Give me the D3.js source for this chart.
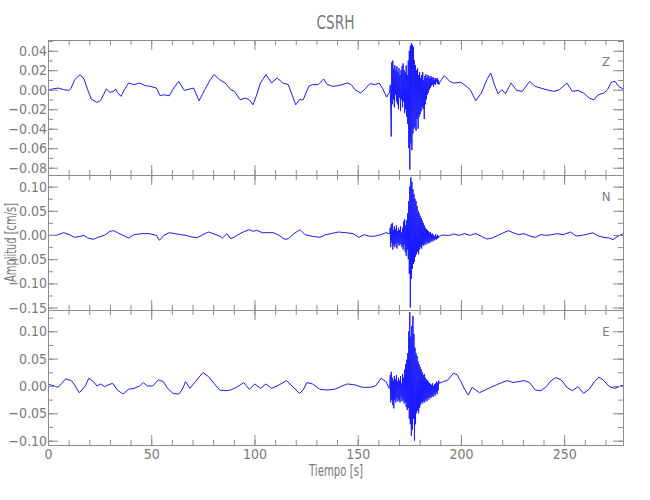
<!DOCTYPE html>
<html><head><meta charset="utf-8">
<script src="https://cdn.jsdelivr.net/npm/d3@7"></script>
<style>
body{margin:0;background:#fff}
text{font-family:"Liberation Sans Narrow","DejaVu Sans Condensed","Liberation Sans",sans-serif;fill:#7a7a7a}
</style>
</head><body><svg id="chart" width="650" height="500"></svg>
<script>
const chartTitle = "CSRH";
const xLabel = "Tiempo [s]";
const yLabel = "Amplitud [cm/s]";
const components = ["Z", "N", "E"];
const xTickValues = [0, 50, 100, 150, 200, 250];
const xDomain = [0, 278.5];
const zTickValues = [-0.08, -0.06, -0.04, -0.02, 0, 0.02, 0.04];
const nTickValues = [-0.15, -0.10, -0.05, 0, 0.05, 0.10];
const eTickValues = [-0.10, -0.05, 0, 0.05, 0.10];
const zDomain = [-0.0875, 0.051];
const nDomain = [-0.155, 0.124];
const eDomain = [-0.108, 0.139];
const zMinorStep = 0.01, nMinorStep = 0.025, eMinorStep = 0.025;

// event section sampled every 0.25 s starting at 165.5 s
const eventStart = 165.5, eventStep = 0.25;

const zBefore = [[0,-0.0017],[0.4,0],[2.2,0.0007],[4.9,0.0017],[7.6,0],[10.3,-0.0007],[11.2,0.0017],[12.9,0.0103],[15.6,0.0155],[17.4,0.011],[19.2,0],[21,-0.0096],[23.7,-0.0131],[25.5,-0.011],[27.3,-0.0034],[28.2,0.0007],[30,-0.0027],[31.8,-0.0017],[32.7,0.0007],[33.6,-0.0027],[35.4,-0.0069],[37.2,0.0007],[39,0.0069],[41.7,0.0052],[44.4,0.0069],[47.1,0.0041],[49.8,0.0034],[52.5,0.0017],[54.3,-0.0062],[56.1,-0.0052],[58.8,-0.0062],[60.6,0.0007],[63.3,0.0086],[66,-0.0007],[68.7,0.0007],[70.5,0.0017],[73.2,-0.0113],[75.9,0],[78.6,0.0103],[80.4,0.0155],[83.1,0.0103],[85.8,0.0069],[88.5,0],[90.3,-0.0017],[93,-0.0103],[95.7,-0.0086],[97.5,-0.0103],[99.3,-0.0155],[101.1,-0.0052],[102.9,0.0069],[105.6,0.0155],[108.3,0.0069],[111,0.012],[113.7,0.0069],[116.4,0.0052],[118.2,-0.0052],[120,-0.0155],[121.8,-0.0103],[123.6,-0.0103],[126.3,0.0034],[128.1,0.0052],[130.8,0.0052],[133.5,0.011],[135.3,0.0052],[138,0.0034],[140.6,0.0041],[142.4,0.0052],[145.1,0.0069],[146.9,0.0052],[148.7,0],[151.4,-0.0034],[153.2,0],[155.9,0.0062],[158.6,0.0052],[160.4,0.0069],[162.2,0.0007],[164,-0.0076],[165.2,-0.0034]];
const zEvent = [-0.003,0.005,-0.02,-0.048,0.028,-0.015,0.03,-0.01,0.022,-0.018,0.025,-0.005,0.02,-0.012,0.024,-0.015,0.018,-0.02,0.022,-0.008,0.015,-0.022,0.02,-0.01,0.024,-0.018,0.027,-0.012,0.02,-0.024,0.018,-0.02,0.025,-0.028,0.015,-0.035,0.03,-0.06,0.04,-0.082,0.045,-0.055,0.048,-0.062,0.046,-0.045,0.044,-0.04,0.03,-0.038,0.025,-0.042,0.02,-0.03,0.022,-0.04,0.015,-0.028,0.018,-0.025,0.012,-0.022,0.015,-0.018,0.018,-0.02,0.01,-0.03,0.014,-0.015,0.016,-0.01,0.012,-0.005,0.015,-0.003,0.014,0,0.012,0.002,0.014,0.004,0.012,0.005,0.013,0.003,0.01,0.006,0.012,0.005,0.011,0.008,0.012,0.006,0.01,0.005];
const zAfter = [[189.5,0.0069],[191.9,0.0144],[194.6,0.0086],[196.4,0.0069],[200,0.0076],[202.7,0.0034],[204.5,0],[207.2,-0.0113],[209.9,-0.0034],[212.6,0.0103],[214.4,0.0172],[216.2,0.0052],[218,-0.0041],[219.8,0],[221.6,-0.0041],[224.3,0.0069],[227,-0.0007],[229.7,-0.0017],[233.3,0.0086],[236,0.0034],[238.7,0.0017],[241.4,0],[245,-0.0017],[247.7,0],[251.3,0.0069],[254,-0.0017],[256.7,-0.0007],[259.4,-0.0034],[262.1,-0.0086],[264.4,-0.0103],[266.5,-0.0052],[269.2,-0.0034],[271,0],[272.8,0.0076],[274.6,0.0086],[276.4,0.0034],[278.5,0.0007]];

const nBefore = [[0,-0.0007],[4,-0.0007],[7.6,0.0048],[10.3,0.0007],[12.9,-0.0048],[15.6,-0.0028],[17.4,-0.0007],[19.2,-0.0062],[21.9,-0.009],[24.6,-0.0041],[27.3,-0.0007],[30,0.0076],[31.8,0.009],[33.6,0.0048],[36.3,-0.0007],[39,-0.0062],[41.7,0.0007],[45.3,0.0028],[48.9,0.0028],[52.5,-0.0007],[54,-0.011],[56.1,-0.0007],[58.8,0.0048],[61.5,0.0028],[64.2,0.0007],[66.9,-0.0007],[69.6,-0.0041],[72.3,-0.0055],[75,0.0007],[77.7,0.0062],[80.4,0.0021],[83.1,-0.0021],[84.5,-0.0062],[86.7,0.0028],[88.5,-0.0076],[90.3,-0.0041],[92.1,0.0007],[94.6,0.0062],[97.5,0.011],[99.3,0.0076],[101.1,0.0097],[103.8,0.0048],[106.5,0.0048],[109.2,0.0048],[111.9,-0.0007],[114.6,-0.009],[116.4,-0.0076],[119.1,0.0028],[122.1,0.011],[124.5,0.0007],[128.1,-0.0028],[131.7,-0.0048],[134.4,0.0007],[137.1,0.0028],[140.6,0.0062],[144.2,0.0048],[147.8,0.0028],[150.5,-0.0048],[153.2,0.0007],[155.9,-0.0028],[158.6,-0.0021],[161.3,0.0007],[163.7,0.0048],[165.2,0.0028]];
const nEvent = [0.003,0.015,-0.025,0.022,-0.015,0.025,-0.03,0.01,-0.02,0.018,-0.025,0.012,-0.018,0.02,-0.028,0.008,-0.015,0.015,-0.022,0.01,-0.018,0.018,-0.02,0.005,-0.025,0.015,-0.03,0.028,-0.02,0.033,-0.035,0.02,-0.043,0.03,-0.03,0.045,-0.05,0.07,-0.08,0.1,-0.15,0.119,-0.09,0.11,-0.07,0.095,-0.06,0.085,-0.055,0.075,-0.045,0.07,-0.04,0.06,-0.035,0.05,-0.04,0.045,-0.03,0.04,-0.025,0.035,-0.028,0.03,-0.02,0.025,-0.022,0.02,-0.018,0.015,-0.02,0.012,-0.015,0.01,-0.018,0.008,-0.015,0.005,-0.016,0.006,-0.012,0.002,-0.014,0.003,-0.01,0,-0.012,-0.002,-0.008,0.002,-0.01,-0.003,-0.008,0,-0.006,-0.002];
const nAfter = [[189.5,-0.003],[191.2,0],[192.8,-0.0007],[194.6,-0.0007],[196.4,0.0021],[199.1,-0.0007],[201.8,0.0028],[204.5,-0.0007],[207.2,0.0028],[209.9,-0.0028],[212.6,-0.0083],[215.3,-0.0062],[218,-0.0007],[220.7,0.0048],[223,0.009],[225.2,0.0048],[227.9,0.0007],[230.6,0.0028],[233.3,-0.0021],[236,-0.0048],[238.7,0.0007],[241.4,-0.0007],[244.1,0.0007],[246.8,0.0028],[249.5,0.0007],[253.1,0.0062],[255.8,-0.0021],[258.5,-0.0007],[261.2,0.0014],[263.9,0.0048],[266.5,-0.0021],[269.2,-0.0048],[271.9,-0.0062],[273.7,-0.0097],[275.5,-0.0041],[278.5,0.0028]];

const eBefore = [[0,0.0037],[1.3,0.0019],[3.1,0],[4.9,-0.0025],[6.7,0.0049],[8.5,0.013],[11.2,0.0099],[12.9,0.0019],[15.1,-0.0123],[16.5,-0.0074],[18.3,0.0019],[19.8,0.0142],[22,0.008],[23.7,0],[25.5,0.0037],[27.3,-0.0012],[29.1,0.0019],[31.3,0.0049],[33.6,-0.0074],[36.3,-0.0148],[39,-0.0062],[41.7,-0.0043],[44.4,0],[46.2,0.0062],[48,0],[50.7,0],[53.4,0.0111],[55.8,0.008],[57.9,-0.0043],[60.6,-0.0136],[63.3,-0.0148],[65.1,-0.0062],[66.6,0.008],[68.7,-0.0043],[71.4,0.008],[75,0.0247],[77.7,0.0173],[80.4,0.0049],[83.1,-0.0074],[85.8,-0.0086],[88.5,-0.0074],[91.2,-0.0025],[94.8,0.0062],[97.5,-0.0062],[100.2,0.0037],[102.9,-0.0043],[105.6,0.0037],[108.3,-0.0043],[111.9,0.0019],[115.5,0.0099],[118.2,0],[121.8,-0.0136],[123.6,-0.0074],[125.4,0.0062],[128.1,0.0037],[131.7,-0.0062],[135.3,-0.0074],[138.8,-0.0062],[142.4,0],[145.1,0.0037],[148.7,0.0019],[152.3,-0.0025],[155.9,-0.0025],[158.6,0],[161.3,0.0142],[163.7,0.008],[165.2,-0.0043]];
const eEvent = [-0.004,0.02,-0.03,0.026,-0.025,0.015,-0.035,0.01,-0.041,0.018,-0.025,0.012,-0.03,0.02,-0.022,0.008,-0.028,0.015,-0.025,0.01,-0.03,0.018,-0.02,0.005,-0.028,0.022,-0.025,0.015,-0.032,0.03,-0.03,0.04,-0.038,0.048,-0.044,0.06,-0.04,0.1,-0.06,0.135,-0.07,0.09,-0.091,0.11,-0.08,0.128,-0.06,0.095,-0.1,0.07,-0.07,0.06,-0.05,0.055,-0.045,0.045,-0.05,0.04,-0.04,0.035,-0.035,0.03,-0.03,0.025,-0.032,0.02,-0.028,0.022,-0.03,0.015,-0.025,0.012,-0.028,0.01,-0.022,0.008,-0.025,0.005,-0.02,0.004,-0.022,0.002,-0.018,0.005,-0.02,0,-0.015,0.003,-0.018,0.005,-0.012,0.008,-0.015,0.006,-0.008,0.01];
const eAfter = [[189.5,0.005],[191.5,0.008],[193.7,0.011],[196.4,0.0234],[198.2,0.0204],[200,0.008],[201.8,-0.0062],[203.6,-0.0167],[205.4,-0.0025],[207.2,-0.0074],[209,-0.0123],[211.7,-0.0074],[214.4,-0.0025],[217.1,0.0019],[219.8,0.0062],[222.5,0.0099],[225.2,0.0062],[227.9,0.008],[230.6,0.0099],[233.3,0.0062],[236,-0.0074],[238.7,-0.0086],[241.4,-0.0012],[243.2,0.008],[245.9,0.0154],[248.6,0.0111],[251.3,-0.0025],[254,-0.0086],[256.7,-0.0012],[259.4,-0.0136],[262.1,-0.0062],[264.7,0.008],[266.9,0.016],[269.2,0.0099],[271.9,-0.0012],[274.6,-0.0043],[277.3,0],[278.5,0.001]];

function assemble(before, ev, after) {
  return before.concat(ev.map((v, i) => [eventStart + i * eventStep, v]), after);
}

const panels = [
  {name: components[0], data: assemble(zBefore, zEvent, zAfter), domain: zDomain, ticks: zTickValues, minor: zMinorStep},
  {name: components[1], data: assemble(nBefore, nEvent, nAfter), domain: nDomain, ticks: nTickValues, minor: nMinorStep},
  {name: components[2], data: assemble(eBefore, eEvent, eAfter), domain: eDomain, ticks: eTickValues, minor: eMinorStep}
];

const svg = d3.select("#chart");
const left = 48, right = 623, top0 = 40, panelH = 135;
const axisColor = "#8c8c8c";
const x = d3.scaleLinear().domain(xDomain).range([left, right]);
const xMinor = d3.range(0, 280, 10);
const fmt = d3.format(".2f");

svg.append("text").attr("x", (left + right) / 2).attr("y", 29)
  .attr("text-anchor", "middle").style("font-size", "20px")
  .attr("textLength", 38).attr("lengthAdjust", "spacingAndGlyphs").text(chartTitle);

panels.forEach((p, i) => {
  const y0 = top0 + i * panelH, y1 = y0 + panelH;
  const y = d3.scaleLinear().domain(p.domain).range([y1, y0]);
  const g = svg.append("g");
  const clipId = "clip" + i;
  svg.append("clipPath").attr("id", clipId).append("rect")
    .attr("x", left).attr("y", y0).attr("width", right - left).attr("height", panelH);

  const yMinor = d3.range(Math.ceil(p.domain[0] / p.minor) * p.minor, p.domain[1], p.minor);

  g.append("path").datum(p.data)
    .attr("clip-path", `url(#${clipId})`)
    .attr("fill", "none").attr("stroke", "#1a1aff").attr("stroke-width", 1)
    .attr("stroke-linejoin", "round")
    .attr("d", d3.line().x(d => x(d[0])).y(d => y(d[1])));

  const styleAxis = sel => { sel.select(".domain").remove(); sel.selectAll("line").attr("stroke", axisColor); sel.selectAll("text").style("font-size", "14px").attr("fill", "#7a7a7a").style("font-family", null); };

  g.append("g").attr("transform", `translate(${left},0)`)
    .call(d3.axisLeft(y).tickValues(yMinor).tickSize(-5).tickFormat(""))
    .call(styleAxis);
  g.append("g").attr("transform", `translate(${left},0)`)
    .call(d3.axisLeft(y).tickValues(p.ticks).tickSize(-10).tickPadding(1).tickFormat(d => fmt(Math.abs(d) < 1e-9 ? 0 : d)))
    .call(styleAxis);
  g.append("g").attr("transform", `translate(${right},0)`)
    .call(d3.axisRight(y).tickValues(yMinor).tickSize(-5).tickFormat(""))
    .call(styleAxis);
  g.append("g").attr("transform", `translate(${right},0)`)
    .call(d3.axisRight(y).tickValues(p.ticks).tickSize(-10).tickFormat(""))
    .call(styleAxis);
  g.append("g").attr("transform", `translate(0,${y0})`)
    .call(d3.axisTop(x).tickValues(xMinor).tickSize(-5).tickFormat(""))
    .call(styleAxis);
  g.append("g").attr("transform", `translate(0,${y0})`)
    .call(d3.axisTop(x).tickValues(xTickValues).tickSize(-10).tickFormat(""))
    .call(styleAxis);
  g.append("g").attr("transform", `translate(0,${y1})`)
    .call(d3.axisBottom(x).tickValues(xMinor).tickSize(-5).tickFormat(""))
    .call(styleAxis);
  g.append("g").attr("transform", `translate(0,${y1})`)
    .call(d3.axisBottom(x).tickValues(xTickValues).tickSize(-10).tickPadding(4)
      .tickFormat(i === panels.length - 1 ? d3.format("d") : ""))
    .call(styleAxis);

  g.append("rect").attr("x", left + 0.5).attr("y", y0 + 0.5)
    .attr("width", right - left).attr("height", panelH)
    .attr("fill", "none").attr("stroke", axisColor);

  g.append("text").attr("x", 606).attr("y", y0 + 26)
    .attr("text-anchor", "middle").style("font-size", "13px").text(p.name);
});

svg.append("text").attr("x", 336).attr("y", 476)
  .attr("text-anchor", "middle").style("font-size", "15px")
  .attr("textLength", 54).attr("lengthAdjust", "spacingAndGlyphs").text(xLabel);
svg.append("text").attr("transform", `translate(16,${(top0 + top0 + 3 * panelH) / 2}) rotate(-90)`)
  .attr("text-anchor", "middle").style("font-size", "15px")
  .attr("textLength", 79).attr("lengthAdjust", "spacingAndGlyphs").text(yLabel);
</script>
</body></html>
